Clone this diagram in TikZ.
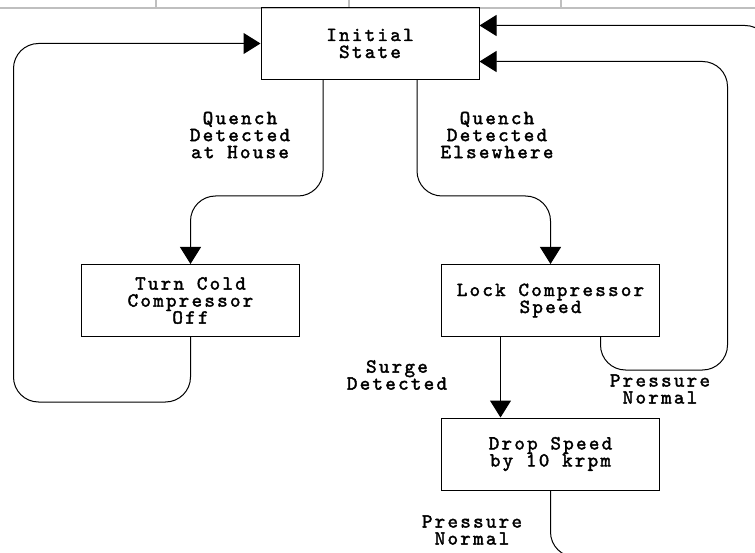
\documentclass[tikz,border=0pt]{standalone}
\usepackage{fontspec}
\newfontfamily\diagfont{lmmono10-regular.otf}[LetterSpace=11.5,FakeBold=2]
\usepackage{tikz}
\usetikzlibrary{arrows.meta}
\newcommand{\diagtext}{\diagfont\fontsize{20}{17}\selectfont\setlength{\lineskiplimit}{-20pt}}

\begin{document}
\begin{tikzpicture}[x=1pt,y=-1pt,
    every node/.style={font=\diagtext,align=center},
    state/.style={draw,line width=1pt,minimum width=218pt,minimum height=72pt,inner sep=0pt},
    link/.style={line width=1pt,rounded corners=25pt},
    tip/.style={-{Triangle[width=21pt,length=17pt]}}]
    \useasboundingbox (0,0) rectangle (755,553);
    \clip (0,0) rectangle (755,553);
    
    \draw[line width=2.5pt,color=black!25] (0,8) -- (755,8) (156,0) -- (156,8) (349,0) -- (349,8) (561,0) -- (561,8);
    
    \node[state] (1) at (370,43.5) {Initial\\State};
    \node[state] (2) at (190.5,300.5) {Turn Cold\\Compressor\\Off};
    \node[state] (3) at (550.5,300.5) {Lock Compressor\\Speed};
    \node[state] (4) at (550.5,454) {Drop Speed\\by 10 krpm};
    
    \node (q1) at (240,135) {Quench\\Detected\\at House};
    \node (q2) at (497,135) {Quench\\Detected\\Elsewhere};
    \node (s) at (397,375) {Surge\\Detected};
    \node (p1) at (660,389) {Pressure\\Normal};
    \node (p2) at (472,530) {Pressure\\Normal};
    
    \coordinate (in) at (770,600);
    \coordinate (out) at (720,557);
    
    \draw[link,tip] ([xshift=-47pt]1.south) -- ++(0,116) -| (2.north);
    \draw[link,tip] ([xshift=47pt]1.south) -- ++(0,116) -| (3.north);
    \draw[link,tip] (2.south) -- ++(0,65) -| ([xshift=-247pt]1.west) -- (1.west);
    \draw[link,tip] ([xshift=-50pt]3.south) -- ([xshift=-50pt]4.north);
    \draw[link,tip] ([xshift=50pt]3.south) -- ++(0,33) -| ([xshift=248pt,yshift=-18pt]1.east) -- ([yshift=-18pt]1.east);
    \draw[link,tip] (in) |- ([yshift=18pt]1.east);
    \draw[link] (4.south) |- (out);
\end{tikzpicture}
\end{document}
